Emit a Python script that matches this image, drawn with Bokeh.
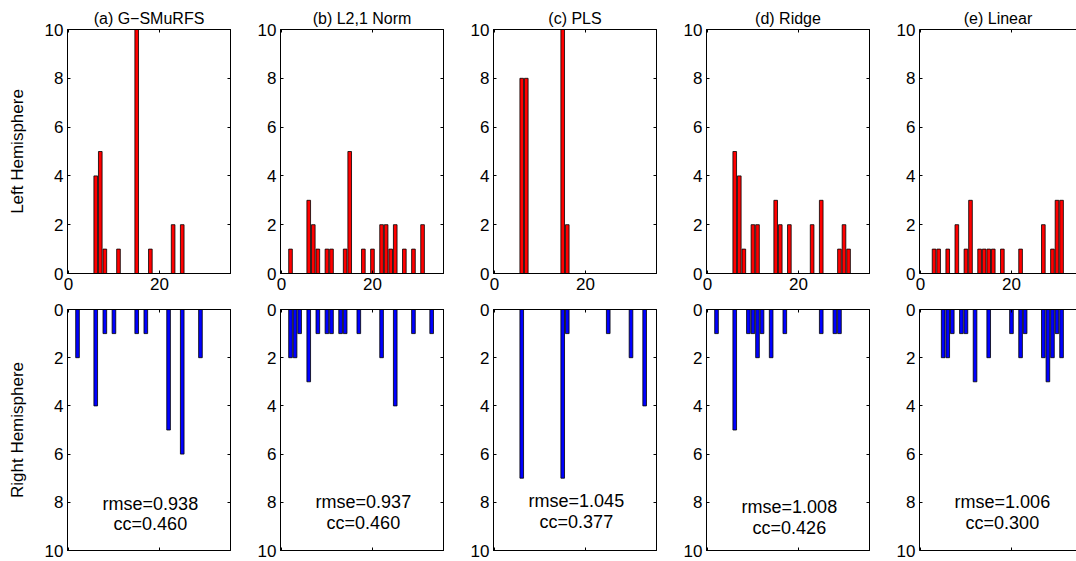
from bokeh.plotting import figure
from bokeh.layouts import row, column
from bokeh.models import Range1d, LinearAxis, FixedTicker
from bokeh.core.properties import value
from bokeh.embed import file_html
from bokeh.resources import INLINE

# ---------------- data ----------------
titles = ["(a) G\u2212SMuRFS", "(b) L2,1 Norm", "(c) PLS", "(d) Ridge", "(e) Linear"]

a_left_x = [6, 7, 8, 11, 15, 18, 23, 25]
a_left_h = [4, 5, 1, 1, 10, 1, 2, 2]
a_right_x = [2, 6, 8, 10, 15, 17, 22, 25, 29]
a_right_h = [2, 4, 1, 1, 1, 1, 5, 6, 2]

b_left_x = [2, 6, 7, 8, 10, 11, 14, 15, 18, 20, 22, 23, 24, 25, 27, 29, 31]
b_left_h = [1, 3, 2, 1, 1, 1, 1, 5, 1, 1, 2, 2, 1, 2, 1, 1, 2]
b_right_x = [2, 3, 4, 6, 8, 10, 11, 13, 14, 17, 22, 25, 29, 33]
b_right_h = [2, 2, 1, 3, 1, 1, 1, 1, 1, 1, 2, 4, 1, 1]

c_left_x = [6, 7, 15, 16]
c_left_h = [8, 8, 10, 2]
c_right_x = [6, 15, 16, 25, 30, 33]
c_right_h = [7, 7, 1, 1, 2, 4]

d_left_x = [6, 7, 8, 10, 11, 15, 16, 18, 23, 25, 29, 30, 31]
d_left_h = [5, 4, 1, 2, 2, 3, 2, 2, 2, 3, 1, 2, 1]
d_right_x = [2, 6, 9, 10, 11, 12, 14, 17, 25, 28, 29]
d_right_h = [1, 5, 1, 1, 2, 1, 2, 1, 1, 1, 1]

e_left_x = [3, 4, 6, 8, 10, 11, 13, 14, 15, 16, 18, 22, 27, 29, 30, 31]
e_left_h = [1, 1, 1, 2, 1, 3, 1, 1, 1, 1, 1, 1, 2, 1, 3, 3]
e_right_x = [5, 6, 7, 9, 10, 12, 15, 20, 22, 23, 27, 28, 29, 30, 31]
e_right_h = [2, 2, 1, 1, 1, 3, 2, 1, 2, 1, 2, 3, 2, 1, 2]

rmse = ["0.938", "0.937", "1.045", "1.008", "1.006"]
cc = ["0.460", "0.460", "0.377", "0.426", "0.300"]

x_ticks = [0, 20]
y_ticks = [0, 2, 4, 6, 8, 10]

left_data = [(a_left_x, a_left_h), (b_left_x, b_left_h), (c_left_x, c_left_h),
             (d_left_x, d_left_h), (e_left_x, e_left_h)]
right_data = [(a_right_x, a_right_h), (b_right_x, b_right_h), (c_right_x, c_right_h),
              (d_right_x, d_right_h), (e_right_x, e_right_h)]

# ---------------- layout / style ----------------
FONT = "Liberation Sans"
TICK_FS = "17px"
X0, PX_PER_UNIT = -0.2, 163 / 35.8
text_y = [(8.05, 8.9), (8.0, 8.85), (7.95, 8.8), (8.2, 9.05), (8.0, 8.85)]


def add_axis(p, loc, ticks, labels):
    ax = LinearAxis(ticker=FixedTicker(ticks=ticks),
                    major_tick_in=3, major_tick_out=0,
                    minor_tick_in=0, minor_tick_out=0,
                    axis_line_color="black", major_tick_line_color="black",
                    axis_line_width=1)
    if labels:
        ax.major_label_text_font = FONT
        ax.major_label_text_font_size = TICK_FS
        ax.major_label_text_color = "black"
        ax.major_label_standoff = 4
    else:
        ax.major_label_text_font_size = "0px"
        ax.major_label_standoff = 0
    p.add_layout(ax, loc)
    return ax


def make_fig(i, top):
    left = 67 if i == 0 else 40
    right = 0 if i == 4 else 10
    fw = 157 if i == 4 else 163
    width = left + fw + right
    if top:
        height, bt, bb = 299, 29, 26
        yr = Range1d(0, 10)
    else:
        height, bt, bb = 262, 10, 11
        yr = Range1d(10, 0)
    xr = Range1d(X0, X0 + fw / PX_PER_UNIT)
    p = figure(width=width, height=height, x_range=xr, y_range=yr,
               output_backend="svg", toolbar_location=None,
               x_axis_location=None, y_axis_location=None,
               min_border_left=left, min_border_right=right,
               min_border_top=bt, min_border_bottom=bb,
               background_fill_color="white", border_fill_color="white",
               outline_line_color="black" if i < 4 else None)
    p.grid.visible = False

    add_axis(p, "below", x_ticks, top)
    add_axis(p, "above", x_ticks, False)
    yax = add_axis(p, "left", y_ticks, True)
    if i < 4:
        add_axis(p, "right", y_ticks, False)

    if top:
        xs, hs = left_data[i]
        p.vbar(x=xs, top=hs, bottom=0, width=0.8, fill_color="#FF0000",
               line_color="black", line_width=0.8)
        p.title.text = titles[i]
        p.title.align = "center"
        p.title.text_font = FONT
        p.title.text_font_size = "16px"
        p.title.text_font_style = "normal"
        p.title.text_color = "black"
        p.title.standoff = 6
        if i == 0:
            yax.axis_label = "Left Hemisphere"
    else:
        xs, hs = right_data[i]
        p.vbar(x=xs, top=hs, bottom=0, width=0.8, fill_color="#0000FF",
               line_color="black", line_width=0.8)
        ty = text_y[i]
        p.text(x=[18, 18], y=[ty[0], ty[1]],
               text=["rmse=" + rmse[i], "cc=" + cc[i]],
               text_align="center", text_baseline="middle",
               text_font=value(FONT), text_font_size="18px", text_color="black")
        if i == 0:
            yax.axis_label = "Right Hemisphere"
    if i == 0:
        yax.axis_label_text_font = FONT
        yax.axis_label_text_font_size = "17px"
        yax.axis_label_text_font_style = "normal"
        yax.axis_label_text_color = "black"
        yax.axis_label_standoff = 15
    return p


top_row = row([make_fig(i, True) for i in range(5)], spacing=0)
bottom_row = row([make_fig(i, False) for i in range(5)], spacing=0)
layout = column([top_row, bottom_row], spacing=0)

open("out.html", "w").write(file_html(layout, INLINE))
